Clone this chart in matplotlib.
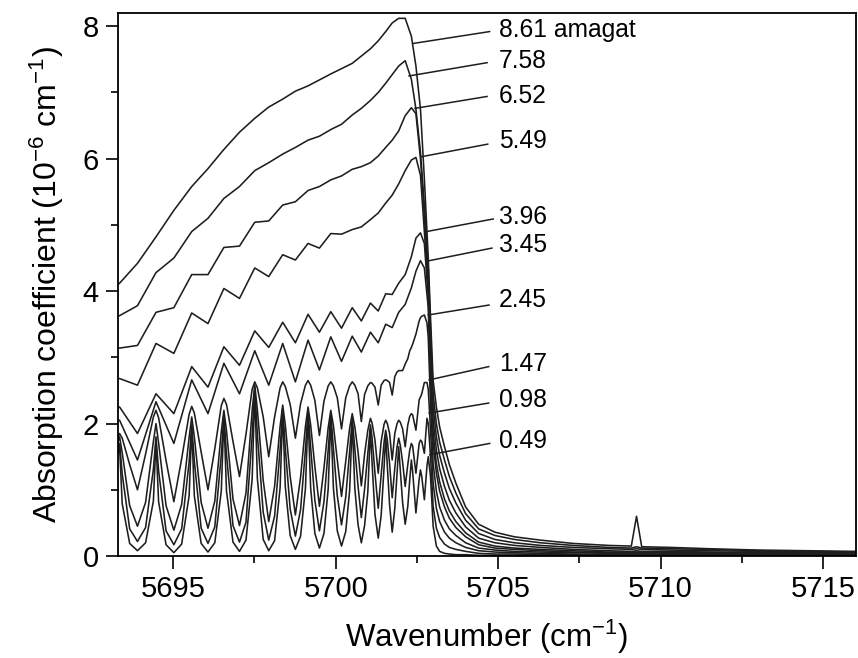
import matplotlib
matplotlib.use("Agg")
import matplotlib.pyplot as plt
from matplotlib.ticker import MultipleLocator

plt.rcParams['font.family'] = ['Liberation Sans', 'DejaVu Sans']
plt.rcParams['mathtext.fontset'] = 'custom'
plt.rcParams['mathtext.rm'] = 'Liberation Sans'
plt.rcParams['mathtext.it'] = 'Liberation Sans:italic'
plt.rcParams['mathtext.default'] = 'regular'

# wavenumber grids (cm-1): line peaks, flanks and valleys
wn_narrow = [5693.30, 5693.35,
             5693.43, 5693.66, 5693.90, 5694.15, 5694.39, 5694.47,
             5694.55, 5694.78, 5695.02, 5695.26, 5695.49, 5695.57,
             5695.65, 5695.86, 5696.07, 5696.28, 5696.48, 5696.56,
             5696.64, 5696.84, 5697.04, 5697.24, 5697.43, 5697.51,
             5697.59, 5697.77, 5697.94, 5698.12, 5698.29, 5698.37,
             5698.45, 5698.60, 5698.76, 5698.92, 5699.07, 5699.15,
             5699.23, 5699.36, 5699.50, 5699.64, 5699.77, 5699.85,
             5699.93, 5700.05, 5700.18, 5700.31, 5700.43, 5700.51,
             5700.59, 5700.69, 5700.79, 5700.89, 5700.99, 5701.07,
             5701.12, 5701.21, 5701.31, 5701.40, 5701.49, 5701.54,
             5701.59, 5701.66, 5701.74, 5701.82, 5701.89, 5701.94,
             5701.99, 5702.06, 5702.14, 5702.22, 5702.28, 5702.33,
             5702.37, 5702.47, 5702.57, 5702.61,
             5702.65, 5702.73, 5702.81, 5702.85]
wn_broad = [5693.30, 5693.35, 5693.90, 5694.47, 5695.02, 5695.57, 5696.07, 5696.56,
            5697.04, 5697.51, 5697.94, 5698.37, 5698.76, 5699.15, 5699.50, 5699.85,
            5700.18, 5700.51, 5700.79, 5701.07, 5701.31, 5701.54, 5701.74, 5701.94,
            5702.14, 5702.33, 5702.47, 5702.61, 5702.73, 5702.85]
wn_tail = [5702.92, 5703.00, 5703.10, 5703.20, 5703.35, 5703.50, 5703.70, 5704.00,
           5704.40, 5704.90, 5705.50, 5706.30, 5707.30, 5708.40, 5709.10, 5709.26,
           5709.42, 5710.30, 5711.50, 5713.00, 5714.50, 5716.00]

# absorption coefficient (1e-6 cm-1) for each density (amagat)
a049 = [1.55, 1.65,
        0.79, 0.19, 0.08, 0.20, 0.83, 1.75,
        0.82, 0.17, 0.05, 0.18, 0.91, 1.95,
        0.91, 0.19, 0.06, 0.20, 0.98, 2.10,
        0.98, 0.21, 0.07, 0.24, 1.16, 2.50,
        1.17, 0.25, 0.08, 0.23, 1.03, 2.20,
        1.05, 0.31, 0.10, 0.30, 1.02, 2.15,
        1.03, 0.34, 0.12, 0.34, 1.01, 2.10,
        1.03, 0.38, 0.15, 0.37, 0.99, 2.02,
        1.02, 0.47, 0.20, 0.46, 0.97, 1.92,
        1.41, 0.63, 0.27, 0.61, 1.34, 1.82,
        1.36, 0.77, 0.36, 0.72, 1.25, 1.65,
        1.29, 0.81, 0.48, 0.75, 1.15, 1.45,
        1.27, 0.65, 1.16, 1.30,
        1.20, 0.85, 1.36, 1.50]
a098 = [1.62, 1.70,
        1.24, 0.41, 0.22, 0.43, 1.31, 1.80,
        1.29, 0.38, 0.17, 0.41, 1.42, 1.98,
        1.43, 0.42, 0.19, 0.44, 1.53, 2.13,
        1.53, 0.46, 0.21, 0.51, 1.82, 2.55,
        1.83, 0.66, 0.24, 0.60, 1.61, 2.23,
        1.63, 0.71, 0.30, 0.70, 1.61, 2.20,
        1.64, 0.84, 0.38, 0.82, 1.60, 2.15,
        1.63, 0.91, 0.47, 0.89, 1.58, 2.08,
        1.62, 1.05, 0.58, 1.01, 1.55, 1.98,
        1.79, 1.25, 0.72, 1.22, 1.72, 1.90,
        1.75, 1.39, 0.88, 1.33, 1.65, 1.78,
        1.67, 1.42, 1.05, 1.38, 1.60, 1.70,
        1.66, 1.25, 1.70, 1.75,
        1.73, 1.55, 2.08, 2.00]
a147 = [1.72, 1.80,
        1.56, 0.76, 0.45, 0.81, 1.73, 2.00,
        1.71, 0.76, 0.39, 0.78, 1.79, 2.10,
        1.80, 0.81, 0.42, 0.83, 1.88, 2.20,
        1.89, 0.86, 0.46, 0.95, 2.20, 2.58,
        2.21, 1.14, 0.52, 1.05, 1.96, 2.28,
        1.98, 1.20, 0.62, 1.19, 1.96, 2.25,
        1.98, 1.35, 0.75, 1.33, 1.94, 2.20,
        1.97, 1.45, 0.90, 1.43, 1.93, 2.15,
        1.95, 1.57, 1.06, 1.54, 1.90, 2.08,
        2.01, 1.75, 1.25, 1.73, 1.99, 2.05,
        2.00, 1.85, 1.45, 1.85, 2.00, 2.05,
        2.02, 1.92, 1.65, 1.98, 2.11, 2.15,
        2.13, 1.90, 2.36, 2.40,
        2.45, 2.62, 2.62, 2.52]
a245 = [1.80, 1.85,
        1.78, 1.38, 1.00, 1.54, 2.10, 2.20,
        2.09, 1.44, 0.82, 1.47, 2.14, 2.26,
        2.16, 1.57, 1.00, 1.62, 2.27, 2.38,
        2.29, 1.73, 1.20, 1.84, 2.52, 2.63,
        2.54, 2.10, 1.50, 2.10, 2.54, 2.63,
        2.56, 2.29, 1.78, 2.30, 2.58, 2.65,
        2.58, 2.35, 1.82, 2.34, 2.57, 2.63,
        2.57, 2.39, 1.92, 2.39, 2.57, 2.63,
        2.58, 2.45, 2.03, 2.44, 2.57, 2.62,
        2.61, 2.55, 2.28, 2.58, 2.65, 2.66,
        2.65, 2.62, 2.43, 2.71, 2.78, 2.80,
        2.80, 2.80, 2.90, 2.98, 3.10, 3.15,
        3.20, 3.35, 3.55, 3.60,
        3.62, 3.64, 3.52, 3.30]
a345 = [2.05, 2.05, 1.45, 2.33, 1.70, 2.66, 2.15, 2.91, 2.45, 3.10, 2.58, 3.21, 2.63, 3.26,
        2.81, 3.31, 2.94, 3.32, 3.08, 3.38, 3.22, 3.50, 3.45, 3.68, 3.80, 4.05, 4.30, 4.46,
        4.35, 3.75]
a396 = [2.25, 2.25, 1.85, 2.45, 2.15, 2.86, 2.55, 3.16, 2.88, 3.40, 3.15, 3.53, 3.22, 3.65,
        3.38, 3.69, 3.44, 3.75, 3.55, 3.82, 3.70, 3.96, 3.95, 4.12, 4.25, 4.52, 4.80, 4.88,
        4.72, 3.90]
a549 = [2.68, 2.68, 2.58, 3.21, 3.06, 3.67, 3.51, 4.04, 3.89, 4.35, 4.22, 4.55, 4.47, 4.72,
        4.65, 4.87, 4.86, 4.93, 4.97, 5.08, 5.18, 5.33, 5.45, 5.62, 5.82, 5.98, 6.02, 5.75,
        4.90, 4.05]
a652 = [3.14, 3.14, 3.18, 3.68, 3.75, 4.25, 4.25, 4.66, 4.68, 5.04, 5.06, 5.30, 5.35, 5.52,
        5.58, 5.68, 5.74, 5.84, 5.88, 5.94, 6.04, 6.17, 6.28, 6.42, 6.65, 6.77, 6.68, 6.00,
        5.15, 4.20]
a758 = [3.62, 3.63, 3.78, 4.28, 4.50, 4.90, 5.10, 5.40, 5.58, 5.82, 5.94, 6.07, 6.17, 6.28,
        6.34, 6.44, 6.52, 6.66, 6.76, 6.88, 7.00, 7.14, 7.27, 7.40, 7.48, 7.20, 6.75, 6.10,
        5.30, 4.35]
a861 = [4.10, 4.12, 4.42, 4.82, 5.22, 5.58, 5.85, 6.14, 6.40, 6.61, 6.78, 6.90, 7.02, 7.10,
        7.19, 7.28, 7.36, 7.44, 7.55, 7.66, 7.78, 7.92, 8.05, 8.12, 8.12, 7.85, 7.40, 6.75,
        5.70, 4.50]

tail049 = [1.20, 0.45, 0.15, 0.07, 0.04, 0.03, 0.02, 0.02, 0.01, 0.01, 0.01, 0.01, 0.01, 0.01, 0.01, 0.01, 0.01, 0.01, 0.01, 0.01, 0.01, 0.01]
tail098 = [1.50, 0.75, 0.42, 0.28, 0.18, 0.13, 0.10, 0.07, 0.04, 0.03, 0.03, 0.02, 0.02, 0.02, 0.01, 0.01, 0.01, 0.01, 0.01, 0.01, 0.01, 0.01]
tail147 = [1.90, 1.10, 0.72, 0.52, 0.36, 0.27, 0.20, 0.13, 0.08, 0.06, 0.05, 0.04, 0.03, 0.02, 0.02, 0.02, 0.02, 0.02, 0.02, 0.02, 0.02, 0.02]
tail245 = [2.30, 1.40, 0.98, 0.74, 0.54, 0.41, 0.31, 0.20, 0.12, 0.09, 0.07, 0.06, 0.05, 0.04, 0.04, 0.04, 0.04, 0.03, 0.03, 0.03, 0.02, 0.02]
tail345 = [2.60, 1.70, 1.25, 0.98, 0.74, 0.57, 0.43, 0.29, 0.17, 0.12, 0.10, 0.08, 0.06, 0.05, 0.05, 0.05, 0.05, 0.04, 0.04, 0.04, 0.03, 0.03]
tail396 = [2.80, 1.85, 1.40, 1.12, 0.86, 0.68, 0.52, 0.35, 0.21, 0.15, 0.12, 0.10, 0.08, 0.06, 0.06, 0.06, 0.06, 0.05, 0.05, 0.04, 0.04, 0.04]
tail549 = [3.00, 2.05, 1.60, 1.32, 1.05, 0.84, 0.65, 0.44, 0.27, 0.20, 0.16, 0.13, 0.10, 0.08, 0.07, 0.08, 0.07, 0.07, 0.06, 0.05, 0.05, 0.04]
tail652 = [3.20, 2.25, 1.80, 1.52, 1.25, 1.02, 0.80, 0.54, 0.34, 0.25, 0.20, 0.16, 0.13, 0.11, 0.10, 0.11, 0.10, 0.09, 0.08, 0.07, 0.06, 0.05]
tail758 = [3.40, 2.45, 2.00, 1.72, 1.45, 1.20, 0.95, 0.64, 0.41, 0.31, 0.25, 0.20, 0.16, 0.13, 0.12, 0.14, 0.12, 0.11, 0.10, 0.08, 0.07, 0.06]
tail861 = [3.60, 2.65, 2.25, 1.95, 1.65, 1.38, 1.10, 0.74, 0.48, 0.36, 0.29, 0.24, 0.19, 0.16, 0.15, 0.60, 0.14, 0.13, 0.11, 0.09, 0.08, 0.07]

# density labels with leader lines: text y, leader start (on the curve) and end
labels = ['8.61 amagat', '7.58', '6.52', '5.49', '3.96', '3.45', '2.45', '1.47', '0.98', '0.49']
label_y = [7.95, 7.47, 6.95, 6.26, 5.12, 4.70, 3.87, 2.90, 2.36, 1.74]
lead_x0 = [5702.38, 5702.26, 5702.44, 5702.64, 5702.80, 5702.88, 5702.85, 5702.88, 5702.88, 5702.90]
lead_y0 = [7.74, 7.25, 6.76, 6.03, 4.90, 4.46, 3.64, 2.66, 2.16, 1.53]
lead_x1 = [5704.74, 5704.66, 5704.66, 5704.68, 5704.85, 5704.81, 5704.72, 5704.71, 5704.71, 5704.74]
lead_y1 = [7.92, 7.45, 6.94, 6.22, 5.09, 4.65, 3.79, 2.86, 2.31, 1.70]

curves = [(wn_narrow, a049, tail049), (wn_narrow, a098, tail098),
          (wn_narrow, a147, tail147), (wn_narrow, a245, tail245),
          (wn_broad, a345, tail345), (wn_broad, a396, tail396),
          (wn_broad, a549, tail549), (wn_broad, a652, tail652),
          (wn_broad, a758, tail758), (wn_broad, a861, tail861)]

fig = plt.figure(figsize=(8.58, 6.58), dpi=100)
ax = fig.add_axes([0.1375, 0.155, 0.8596, 0.8252])

for wn, main, tail in curves:
    ax.plot(wn + wn_tail, main + tail, color='#1e1e1e', lw=1.15)

for i, txt in enumerate(labels):
    ax.plot([lead_x0[i], lead_x1[i]], [lead_y0[i], lead_y1[i]], color='#1e1e1e', lw=1.1)
    ax.text(5705.02, label_y[i], txt, fontsize=17.7, ha='left', va='center')

ax.set_xlim(5693.3, 5716.0)
ax.set_ylim(0, 8.2)
ax.xaxis.set_major_locator(MultipleLocator(5))
ax.xaxis.set_minor_locator(MultipleLocator(2.5))
ax.yaxis.set_major_locator(MultipleLocator(2))
ax.yaxis.set_minor_locator(MultipleLocator(1))
ax.tick_params(which='major', direction='out', length=9, width=1.2, labelsize=21, pad=5)
ax.tick_params(which='minor', direction='out', length=5, width=1.2)
for sp in ax.spines.values():
    sp.set_linewidth(1.3)

ax.set_xlabel('Wavenumber (cm$^{-1}$)', fontsize=22.5, labelpad=10)
ax.set_ylabel('Absorption coefficient (10$^{-6}$ cm$^{-1}$)', fontsize=23, labelpad=12)

fig.savefig('out.png', dpi=100)
